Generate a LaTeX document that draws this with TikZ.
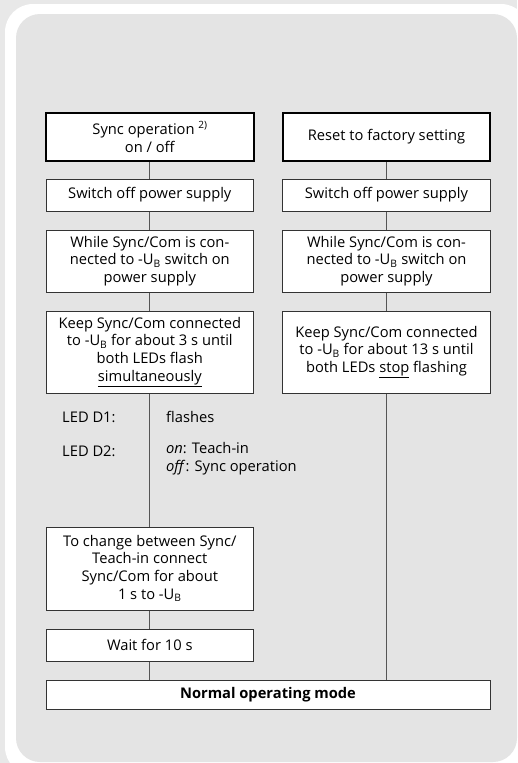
\documentclass[tikz,border=0pt]{standalone}
\usepackage{fontspec}
\setmainfont{Open Sans}
\definecolor{pagebg}{HTML}{E8E8E8}
\definecolor{panel}{HTML}{E4E4E4}
\definecolor{boxline}{HTML}{333333}
\definecolor{conn}{HTML}{555555}
\tikzset{
  stepbox/.style={draw=boxline, line width=1pt, fill=white, align=center,
    minimum width=207.6pt, inner sep=0pt,
    font=\fontsize{14.7}{17.8}\selectfont},
  headbox/.style={stepbox, draw=black, line width=2pt},
  wire/.style={draw=conn, line width=1pt},
  lbl/.style={anchor=west, inner sep=0pt, align=left, font=\fontsize{14.7}{17.8}\selectfont}
}
\begin{document}
\begin{tikzpicture}[x=1pt,y=-1pt]
\useasboundingbox (0,0) rectangle (517,763);
\fill[pagebg] (0,0) rectangle (517,763);
\fill[white, rounded corners=28pt] (5,4) rectangle (529,775);
\fill[panel, rounded corners=24pt] (16,14) rectangle (517,762);

% left column
\node[headbox, minimum height=48pt] (s1) at (149.8,137) {Sync operation \raisebox{0.45em}{\fontsize{10}{10}\selectfont 2)}\\on / off};
\node[stepbox, minimum height=32pt] (s2) at (149.8,195) {Switch off power supply};
\node[stepbox, minimum height=62pt] (s3) at (149.8,261) {While Sync/Com is con-\\nected to -U\textsubscript{B} switch on\\power supply};
\node[stepbox, minimum height=82pt] (s4) at (149.8,352) {Keep Sync/Com connected\\to -U\textsubscript{B} for about 3 s until\\both LEDs flash\\\underline{simultaneously}};
\node[stepbox, minimum height=83pt] (s5) at (149.8,568.5) {To change between Sync/\\Teach-in connect\\Sync/Com for about\\1 s to -U\textsubscript{B}};
\node[stepbox, minimum height=32pt] (s6) at (149.8,645) {Wait for 10 s};

% right column
\node[headbox, minimum height=48pt] (r1) at (386.5,137) {Reset to factory setting};
\node[stepbox, minimum height=32pt] (r2) at (386.5,195) {Switch off power supply};
\node[stepbox, minimum height=62pt] (r3) at (386.5,261) {While Sync/Com is con-\\nected to -U\textsubscript{B} switch on\\power supply};
\node[stepbox, minimum height=82pt] (r4) at (386.5,352) {Keep Sync/Com connected\\to -U\textsubscript{B} for about 13 s until\\both LEDs \underline{stop} flashing};

% final
\node[stepbox, minimum width=444pt, minimum height=29pt, font=\fontsize{14.7}{17.8}\selectfont\bfseries] (nm) at (268,694.5) {Normal operating mode};

% LED labels
\node[lbl] (d1) at (62,417) {LED D1:};
\node[lbl] (d1v) at (166,417) {flashes};
\node[lbl] (d2) at (62,451) {LED D2:};
\node[lbl, anchor=north west] (d2v) at (166,442) {\textit{on}: Teach-in\\\textit{off}: Sync operation};

% connectors
\draw[wire] (s1.south) -- (s2.north);
\draw[wire] (s2.south) -- (s3.north);
\draw[wire] (s3.south) -- (s4.north);
\draw[wire] (s4.south) -- (s5.north);
\draw[wire] (s5.south) -- (s6.north);
\draw[wire] (s6.south) -- (s6.south |- nm.north);
\draw[wire] (r1.south) -- (r2.north);
\draw[wire] (r2.south) -- (r3.north);
\draw[wire] (r3.south) -- (r4.north);
\draw[wire] (r4.south) -- (r4.south |- nm.north);
\end{tikzpicture}
\end{document}
